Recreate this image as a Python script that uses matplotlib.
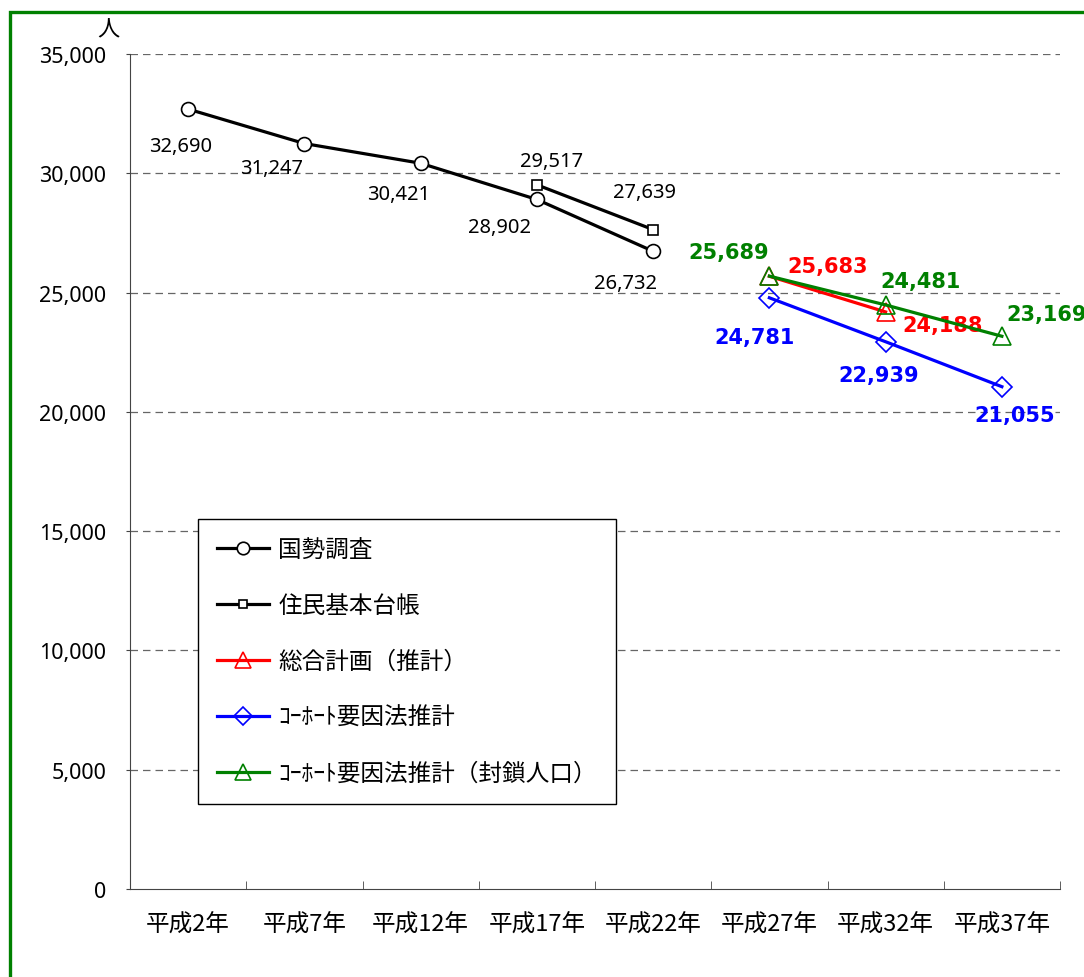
import numpy as np
import matplotlib
matplotlib.use('Agg')
import matplotlib.pyplot as plt
from matplotlib.patches import Rectangle
from matplotlib.ticker import FixedLocator, FuncFormatter

plt.rcParams['font.family'] = ['Noto Sans CJK JP', 'DejaVu Sans']

# data
years = ['平成2年', '平成7年', '平成12年', '平成17年', '平成22年', '平成27年', '平成32年', '平成37年']
census = [32690, 31247, 30421, 28902, 26732]
registry = [29517, 27639]
plan = [25683, 24188]
cohort = [24781, 22939, 21055]
cohort_closed = [25689, 24481, 23169]

x_census = [0, 1, 2, 3, 4]
x_registry = [3, 4]
x_plan = [5, 6]
x_cohort = [5, 6, 7]

GREEN = '#008000'
BLUE = '#0000ff'
RED = '#ff0000'

fig = plt.figure(figsize=(10.84, 9.78), dpi=100)
ax = fig.add_axes([130/1084, 1-890/978, 930/1084, 835/978])

# outer green frame
fig.patches.append(Rectangle((10/1084, -0.1), 1.2, 1-13/978+0.1, transform=fig.transFigure,
                             fill=False, edgecolor=GREEN, linewidth=2.4))

lw = 2.3
ax.plot(x_census, census, color='black', lw=lw, marker='o', ms=10, mfc='white', mec='black', mew=1.2,
        label='国勢調査', zorder=5)
ax.plot(x_registry, registry, color='black', lw=lw, marker='s', ms=6.5, mfc='white', mec='black', mew=1.2,
        label='住民基本台帳', zorder=5)
ax.plot(x_plan, plan, color=RED, lw=lw, marker='^', ms=13, mfc='none', mec=RED, mew=1.2,
        label='総合計画（推計）', zorder=4)
ax.plot(x_cohort, cohort, color=BLUE, lw=lw, marker='D', ms=10, mfc='none', mec=BLUE, mew=1.2,
        label='ｺｰﾎｰﾄ要因法推計', zorder=4)
ax.plot(x_cohort, cohort_closed, color=GREEN, lw=lw, marker='^', ms=13, mfc='none', mec=GREEN, mew=1.2,
        label='ｺｰﾎｰﾄ要因法推計（封鎖人口）', zorder=4)

def lab(x, y, dx, dy, color='black', bold=False, size=14.5):
    ax.annotate(f'{y:,}', (x, y), xytext=(dx, -dy), textcoords='offset pixels',
                ha='center', va='center', color=color, fontsize=size,
                fontweight='bold' if bold else 'normal',
                family=['DejaVu Sans'] if bold else ['Noto Sans', 'DejaVu Sans'],
                annotation_clip=False)

census_off = [(-7, 37), (-33, 24), (-22, 31), (-37, 28), (-28, 32)]
for xi, yi, (dx, dy) in zip(x_census, census, census_off):
    lab(xi, yi, dx, dy)
registry_off = [(15, -24), (-9, -38)]
for xi, yi, (dx, dy) in zip(x_registry, registry, registry_off):
    lab(xi, yi, dx, dy)
plan_off = [(58, -10), (57, 13)]
for xi, yi, (dx, dy) in zip(x_plan, plan, plan_off):
    lab(xi, yi, dx, dy, RED, True, 15)
cohort_off = [(-15, 39), (-7, 33), (13, 28)]
for xi, yi, (dx, dy) in zip(x_cohort, cohort, cohort_off):
    lab(xi, yi, dx, dy, BLUE, True, 15)
closed_off = [(-41, -24), (35, -24), (45, -22)]
for xi, yi, (dx, dy) in zip(x_cohort, cohort_closed, closed_off):
    lab(xi, yi, dx, dy, GREEN, True, 15)

ax.set_xlim(-0.5, 7.5)
ax.set_ylim(0, 35000)
ax.set_xticks(range(len(years)))
ax.set_xticklabels(years, fontsize=17)
ax.xaxis.set_minor_locator(FixedLocator(np.arange(-0.5, 8, 1)))
ax.tick_params(axis='x', which='major', length=0, pad=17)
ax.tick_params(axis='x', which='minor', direction='in', length=6, color='#444444')
ax.set_yticks(range(0, 35001, 5000))
ax.yaxis.set_major_formatter(FuncFormatter(lambda v, p: f'{int(v):,}'))
ax.tick_params(axis='y', length=3, pad=14, labelsize=15.5, color='#444444')
for lbl in ax.get_yticklabels():
    lbl.set_family(['Noto Sans', 'DejaVu Sans'])

for v in range(5000, 35001, 5000):
    ax.axhline(v, color='#666666', lw=0.9, ls=(0, (6, 4)), zorder=1)

for s in ['top', 'right']:
    ax.spines[s].set_visible(False)
ax.spines['left'].set_color('#444444')
ax.spines['bottom'].set_color('#444444')

fig.text(108/1084, 1-30/978, '人', fontsize=16, ha='center', va='center')

leg = ax.legend(loc='upper left', bbox_to_anchor=((198-130)/930, (890-520)/835), fontsize=17,
                frameon=True, fancybox=False, edgecolor='black', framealpha=1,
                handlelength=2.2, handletextpad=0.4, labelspacing=1.4, borderpad=0.8, borderaxespad=0,
                markerscale=0.9)
leg.get_frame().set_linewidth(1.0)

fig.savefig('out.png', dpi=100)
